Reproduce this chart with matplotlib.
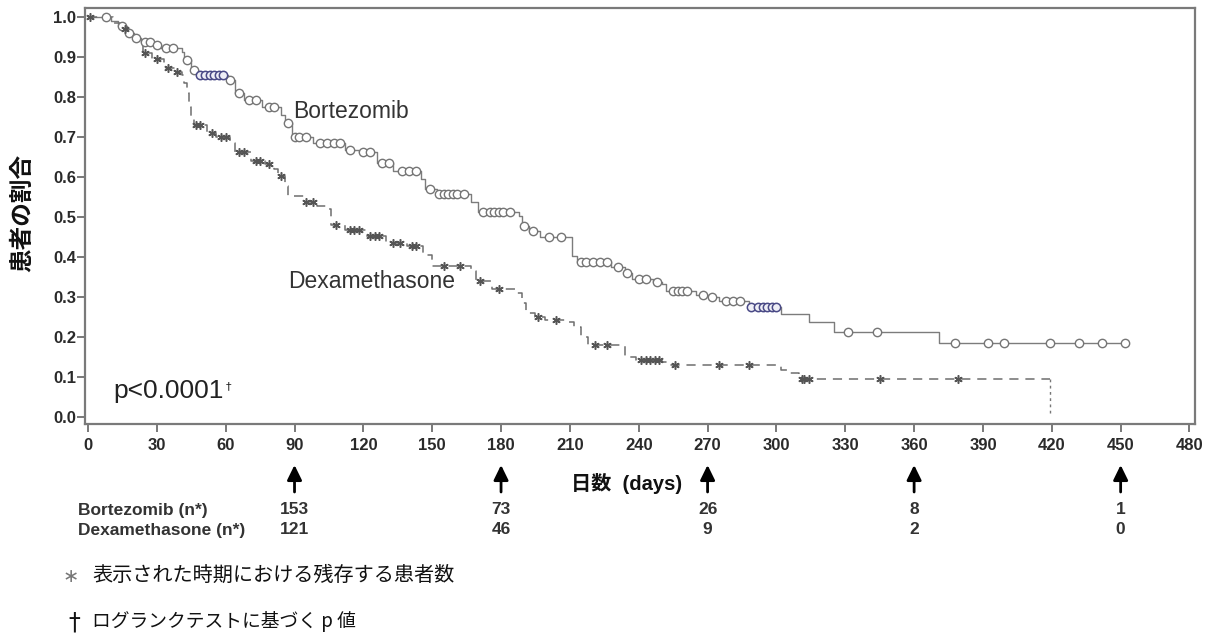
import numpy as np
import matplotlib
matplotlib.use('Agg')
import matplotlib.pyplot as plt
from matplotlib import font_manager
from matplotlib.ticker import FormatStrFormatter

# ---------------- data ----------------
bz_time = [0, 10, 13, 17, 20, 23, 28, 32, 41, 42, 45, 48, 61, 64, 68, 76, 84, 86, 89,
           98, 112, 118, 126, 133, 145, 147, 152, 167, 170, 188, 189, 192, 197, 211,
           213, 228, 234, 237, 246, 250, 252, 265, 270, 275, 288, 302, 314, 325, 371]
bz_surv = [1.0, 0.99, 0.978, 0.96, 0.948, 0.938, 0.93, 0.922, 0.912, 0.892, 0.868, 0.856,
           0.842, 0.81, 0.793, 0.775, 0.755, 0.735, 0.70, 0.685, 0.668, 0.662, 0.636,
           0.614, 0.594, 0.57, 0.557, 0.537, 0.512, 0.502, 0.477, 0.465, 0.45, 0.403,
           0.388, 0.376, 0.361, 0.344, 0.337, 0.332, 0.315, 0.306, 0.301, 0.29, 0.276,
           0.257, 0.237, 0.212, 0.185]
bz_last = 452
bz_censor = [8, 15, 18, 21, 25, 27, 30, 34, 37, 43, 46, 62, 66, 70, 73, 79, 81, 87, 90,
             92, 95, 101, 104, 107, 110, 114, 120, 123, 128, 131, 137, 140, 143, 149,
             153, 155, 157, 159, 161, 164, 172, 175, 177, 179, 181, 184, 190, 194, 201,
             206, 215, 217, 220, 223, 226, 231, 235, 240, 243, 248, 255, 257, 259, 261,
             268, 272, 278, 281, 284, 331, 344, 378, 392, 399, 419, 432, 442, 452]
bz_censor_blue = [49, 51, 53, 55, 57, 59, 289, 292, 294, 296, 298, 300]

dx_time = [0, 11, 14, 18, 21, 24, 28, 33, 38, 41, 42, 43, 44, 45, 46, 52, 56, 62, 64,
           71, 77, 81, 83, 86, 87, 94, 100, 104, 106, 112, 121, 130, 139, 146, 150,
           167, 169, 176, 186, 189, 191, 195, 199, 208, 212, 215, 218, 234, 239, 250,
           254, 302, 306, 310, 419]
dx_surv = [1.0, 0.985, 0.97, 0.955, 0.935, 0.911, 0.896, 0.872, 0.862, 0.854, 0.834,
           0.81, 0.775, 0.75, 0.73, 0.711, 0.70, 0.686, 0.662, 0.64, 0.632, 0.62, 0.602,
           0.578, 0.553, 0.538, 0.528, 0.52, 0.479, 0.467, 0.452, 0.435, 0.427, 0.405,
           0.378, 0.365, 0.341, 0.319, 0.311, 0.285, 0.26, 0.25, 0.242, 0.237, 0.225,
           0.2, 0.18, 0.15, 0.143, 0.138, 0.13, 0.118, 0.11, 0.095, 0.0]
dx_censor = [1, 16, 25, 30, 35, 39, 47, 49, 54, 58, 60, 66, 68, 73, 75, 79, 84, 95, 98,
             108, 114, 116, 118, 123, 125, 127, 133, 136, 141, 143, 155, 162, 171, 179,
             196, 204, 221, 226, 241, 243, 245, 247, 249, 256, 275, 288, 311, 312, 314,
             345, 379]

x_ticks = list(range(0, 481, 30))
y_ticks = [0.0, 0.1, 0.2, 0.3, 0.4, 0.5, 0.6, 0.7, 0.8, 0.9, 1.0]

risk_days = [90, 180, 270, 360, 450]
risk_bortezomib = [153, 73, 26, 8, 1]
risk_dexamethasone = [121, 46, 9, 2, 0]

label_bz = "Bortezomib"
label_dx = "Dexamethasone"
row_bz = "Bortezomib (n*)"
row_dx = "Dexamethasone (n*)"
y_label = "患者の割合"
x_label = "日数  (days)"
p_text = "p < 0.0001"
foot1 = "表示された時期における残存する患者数"
foot2 = "ログランクテストに基づく p 値"

# ---------------- figure ----------------
W, H = 1217, 636
fig = plt.figure(figsize=(W / 100, H / 100), dpi=100)
fig.patch.set_facecolor('white')


def fx(px):
    return px / W


def fy(py):
    return 1 - py / H


names = {f.name for f in font_manager.fontManager.ttflist}
narrow = 'Liberation Sans Narrow' in names
LAT = ['Liberation Sans', 'DejaVu Sans']
JP = ['Noto Sans CJK JP', 'DejaVu Sans']
MIX = ['Liberation Sans', 'Noto Sans CJK JP', 'DejaVu Sans']

ax = fig.add_axes([fx(85), fy(424), fx(1195) - fx(85), fy(8) - fy(424)])
ax.set_xlim(-1.3, 482.4)
ax.set_ylim(-0.0175, 1.0225)


def surv_at(times, survs, c):
    t = np.asarray(times)
    s = np.asarray(survs)
    idx = np.searchsorted(t, np.asarray(c), side='right') - 1
    return s[idx]


# Bortezomib: solid step + open circles
bt = np.array(bz_time + [bz_last])
bs = np.array(bz_surv + [bz_surv[-1]])
ax.step(bt, bs, where='post', color='#7c7c7c', lw=1.0, zorder=2)
ax.plot(bz_censor, surv_at(bz_time, bz_surv, bz_censor), ls='none', marker='o',
        ms=6, mfc='white', mec='#757575', mew=1.0, zorder=3)
ax.plot(bz_censor_blue, surv_at(bz_time, bz_surv, bz_censor_blue), ls='none',
        marker='o', ms=6, mfc='#eeeef6', mec='#4a4a86', mew=1.1, zorder=3)

# Dexamethasone: dashed step + asterisks
dt = np.array(dx_time[:-1] + [dx_time[-1]])
ds = np.array(dx_surv[:-1] + [dx_surv[-2]])
ax.step(dt, ds, where='post', color='#6e6e6e', lw=1.1, ls=(0, (6, 4.5)), zorder=2)
ax.plot([dx_time[-1], dx_time[-1]], [dx_surv[-2], dx_surv[-1] + 0.01], color='#777777',
        lw=1.0, ls=(0, (2, 2.5)), zorder=2)
ax.plot(dx_censor, surv_at(dx_time, dx_surv, dx_censor), ls='none', marker=(6, 2, 0),
        ms=6, mec='#555555', mew=1.1, zorder=3)

# axes styling
for sp in ax.spines.values():
    sp.set_color('#7a7a7a')
    sp.set_linewidth(1.6)
ax.set_xticks(x_ticks)
ax.set_yticks(y_ticks)
ax.yaxis.set_major_formatter(FormatStrFormatter('%.1f'))
ax.tick_params(axis='both', direction='out', length=5.5, width=1.1, color='#555555',
               labelsize=12, labelcolor='#2a2a2a')
ax.tick_params(axis='x', pad=4.5)
ax.tick_params(axis='y', pad=1.0)
for lab in ax.get_xticklabels() + ax.get_yticklabels():
    lab.set_fontweight('bold')
    lab.set_family(LAT)

# curve labels
ax.text((293 - 88) / 2.295, (417 - 112) / 400, label_bz, fontsize=16.5, color='#333333',
        ha='left', va='center', family=LAT)
ax.text((288 - 88) / 2.295, (417 - 282) / 400, label_dx, fontsize=16.5, color='#333333',
        ha='left', va='center', family=LAT)

# p-value
if narrow:
    pt = ax.text(10.9, 0.0475, p_text, fontsize=20, color='#222222', ha='left',
                 va='baseline', family=['Liberation Sans Narrow', 'Liberation Sans'])
else:
    pt = ax.text(10.9, 0.0475, p_text.replace(' ', ''), fontsize=19, color='#222222',
                 ha='left', va='baseline', family=LAT)
ax.annotate('†', xy=(1.0, 0.9), xycoords=pt, xytext=(2, 0), textcoords='offset points',
            fontsize=8, ha='left', va='top', color='#222222', family=['DejaVu Sans'])

# axis titles
fig.text(fx(22), fy(213), y_label, rotation=90, fontsize=17, fontweight='bold',
         ha='center', va='center', family=JP, color='#111111')
fig.text(fx(627), fy(484), x_label, fontsize=14.5, fontweight='bold', ha='center',
         va='center', family=MIX, color='#111111')

# arrows and risk table
for d in risk_days:
    ax.annotate('', xy=(d, fy(465)), xycoords=('data', 'figure fraction'),
                xytext=(d, fy(492)), textcoords=('data', 'figure fraction'),
                arrowprops=dict(arrowstyle='-|>,head_length=0.45,head_width=0.22',
                                mutation_scale=20, lw=2.0, color='black',
                                shrinkA=0, shrinkB=0),
                annotation_clip=False)

fig.text(fx(78), fy(510), row_bz, fontsize=12.5, fontweight='bold', ha='left',
         va='center', family=LAT, color='#333333')
fig.text(fx(78), fy(530), row_dx, fontsize=12.5, fontweight='bold', ha='left',
         va='center', family=LAT, color='#333333')
for d, nb, nd in zip(risk_days, risk_bortezomib, risk_dexamethasone):
    ax.annotate(str(nb), xy=(d, fy(510)), xycoords=('data', 'figure fraction'),
                ha='center', va='center', fontsize=12.5, fontweight='bold',
                family=LAT, color='#333333', annotation_clip=False)
    ax.annotate(str(nd), xy=(d, fy(530)), xycoords=('data', 'figure fraction'),
                ha='center', va='center', fontsize=12.5, fontweight='bold',
                family=LAT, color='#333333', annotation_clip=False)

# footnotes
fig.text(fx(71), fy(577), '∗', fontsize=14, ha='center', va='center', color='#777777',
         family=['DejaVu Sans'])
fig.text(fx(92), fy(575), foot1, fontsize=14.5, ha='left', va='center', family=JP,
         color='#111111')
fig.text(fx(74), fy(622), '†', fontsize=17, ha='center', va='center', color='#111111',
         family=['DejaVu Sans'])
fig.text(fx(92), fy(621), foot2, fontsize=13.5, ha='left', va='center', family=JP,
         color='#111111')

fig.savefig('out.png', dpi=100, facecolor='white')
